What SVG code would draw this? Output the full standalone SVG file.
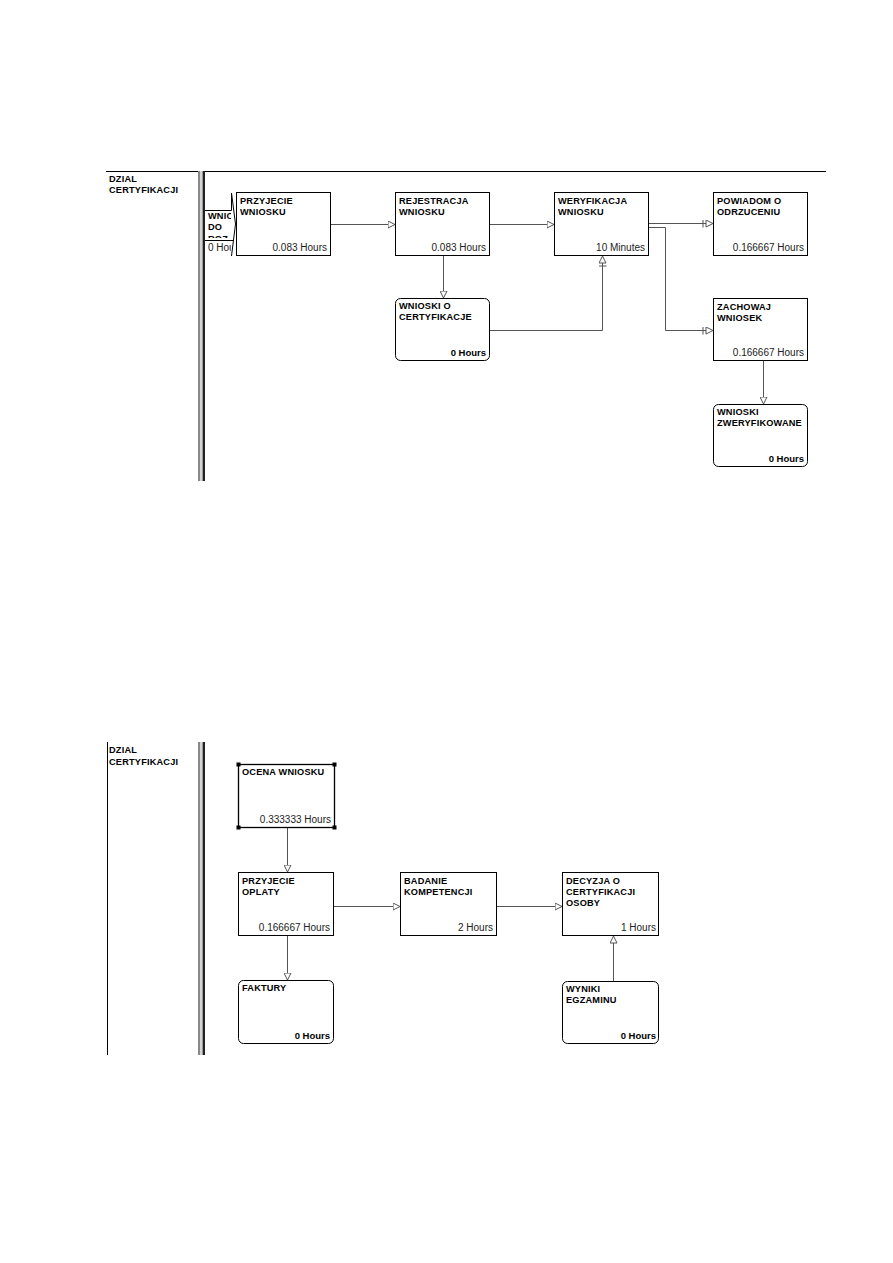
<svg xmlns="http://www.w3.org/2000/svg" width="893" height="1263" viewBox="0 0 893 1263">
<style>
.box{fill:#fff;stroke:#000;stroke-width:1}
.t{font-family:"Liberation Sans",Arial,sans-serif;font-size:9.2px;font-weight:bold;letter-spacing:0.2px;fill:#000}
.h{font-family:"Liberation Sans",Arial,sans-serif;font-size:10px;fill:#222;text-anchor:end}
.hb{font-family:"Liberation Sans",Arial,sans-serif;font-size:9.5px;font-weight:bold;fill:#000;text-anchor:end}
.lane{font-family:"Liberation Sans",Arial,sans-serif;font-size:9.2px;font-weight:bold;letter-spacing:0.2px;fill:#000}
.c{fill:none;stroke:#555;stroke-width:1}
</style>
<defs>
<marker id="arr" viewBox="0 0 8 8" markerWidth="8" markerHeight="8" refX="7.5" refY="4" orient="auto" markerUnits="userSpaceOnUse">
<path d="M0.5,0.5 L7.5,4 L0.5,7.5 Z" fill="#fff" stroke="#555" stroke-width="1"/>
</marker>
<marker id="arrbar" viewBox="0 0 12 8" markerWidth="12" markerHeight="8" refX="11.5" refY="4" orient="auto" markerUnits="userSpaceOnUse">
<line x1="1.5" y1="0" x2="1.5" y2="8" stroke="#555" stroke-width="1"/>
<path d="M4.5,0.5 L11.5,4 L4.5,7.5 Z" fill="#fff" stroke="#555" stroke-width="1"/>
</marker>
<clipPath id="inclip"><rect x="205" y="200" width="26" height="38"/></clipPath>
<clipPath id="inclip2"><rect x="205" y="242" width="26" height="14"/></clipPath>
</defs>

<!-- Top section frame -->
<g id="frame-top">
<line x1="106" y1="171.5" x2="826" y2="171.5" stroke="#000" stroke-width="1"/>
<rect x="198" y="171" width="2" height="310" fill="#888"/>
<rect x="200" y="171" width="2" height="310" fill="#d4d4d4"/>
<rect x="202" y="171" width="1" height="310" fill="#999"/>
<rect x="203" y="171" width="2" height="310" fill="#222"/>
<text class="lane" x="109" y="182">DZIAL</text>
<text class="lane" x="109" y="193">CERTYFIKACJI</text>
</g>

<!-- Bottom section frame -->
<g id="frame-bottom">
<line x1="107.5" y1="742" x2="107.5" y2="1055" stroke="#000" stroke-width="1"/>
<rect x="198" y="742" width="2" height="313" fill="#888"/>
<rect x="200" y="742" width="2" height="313" fill="#d4d4d4"/>
<rect x="202" y="742" width="1" height="313" fill="#999"/>
<rect x="203" y="742" width="2" height="313" fill="#222"/>
<text class="lane" x="109" y="753">DZIAL</text>
<text class="lane" x="109" y="765">CERTYFIKACJI</text>
</g>

<!-- Connectors -->
<g id="connectors">
<line class="c" x1="331" y1="224.5" x2="395" y2="224.5" marker-end="url(#arr)"/>
<line class="c" x1="490" y1="224.5" x2="554" y2="224.5" marker-end="url(#arr)"/>
<line class="c" x1="649" y1="223.5" x2="713" y2="223.5" marker-end="url(#arrbar)"/>
<polyline class="c" points="649,227.5 665.5,227.5 665.5,330.5 713,330.5" marker-end="url(#arrbar)"/>
<line class="c" x1="443.5" y1="256" x2="443.5" y2="298" marker-end="url(#arr)"/>
<polyline class="c" points="490,330.5 602.5,330.5 602.5,256" marker-end="url(#arrbar)"/>
<line class="c" x1="763.5" y1="361" x2="763.5" y2="404" marker-end="url(#arr)"/>
<line class="c" x1="287.5" y1="828" x2="287.5" y2="872" marker-end="url(#arr)"/>
<line class="c" x1="334" y1="906.5" x2="400" y2="906.5" marker-end="url(#arr)"/>
<line class="c" x1="497" y1="906.5" x2="562" y2="906.5" marker-end="url(#arr)"/>
<line class="c" x1="287.5" y1="936" x2="287.5" y2="980" marker-end="url(#arr)"/>
<line class="c" x1="613.5" y1="981" x2="613.5" y2="936" marker-end="url(#arr)"/>
</g>

<!-- Clipped incoming arrow -->
<g id="n-wnioski-do">
<path d="M205,210.5 H231.5 V193 L235.5,224 L231.5,256" fill="none" stroke="#000" stroke-width="1"/>
<line x1="205" y1="240.5" x2="233" y2="240.5" stroke="#000" stroke-width="1"/>
<g clip-path="url(#inclip)">
<text class="t" x="208" y="219">WNIO</text>
<text class="t" x="208" y="230">DO</text>
<text class="t" x="208" y="242">ROZ</text>
</g>
<g clip-path="url(#inclip2)">
<text class="h" x="208" y="251" style="text-anchor:start">0 Hou</text>
</g>
</g>

<g id="n-przyjecie-wniosku">
<rect class="box" x="236.5" y="192.5" width="94" height="63"/>
<text class="t" x="240" y="203.5">PRZYJECIE</text>
<text class="t" x="240" y="214.5">WNIOSKU</text>
<text class="h" x="327" y="251">0.083 Hours</text>
</g>

<g id="n-rejestracja">
<rect class="box" x="395.5" y="192.5" width="94" height="63"/>
<text class="t" x="399" y="203.5">REJESTRACJA</text>
<text class="t" x="399" y="214.5">WNIOSKU</text>
<text class="h" x="486" y="251">0.083 Hours</text>
</g>

<g id="n-weryfikacja">
<rect class="box" x="554.5" y="192.5" width="94" height="63"/>
<text class="t" x="558" y="203.5">WERYFIKACJA</text>
<text class="t" x="558" y="214.5">WNIOSKU</text>
<text class="h" x="645" y="251">10 Minutes</text>
</g>

<g id="n-powiadom">
<rect class="box" x="713.5" y="192.5" width="94" height="63"/>
<text class="t" x="717" y="203.5">POWIADOM O</text>
<text class="t" x="717" y="214.5">ODRZUCENIU</text>
<text class="h" x="804" y="251">0.166667 Hours</text>
</g>

<g id="n-wnioski-o-cert">
<rect class="box" x="395.5" y="298.5" width="94" height="62" rx="5"/>
<text class="t" x="399" y="309">WNIOSKI O</text>
<text class="t" x="399" y="320">CERTYFIKACJE</text>
<text class="hb" x="486" y="356">0 Hours</text>
</g>

<g id="n-zachowaj">
<rect class="box" x="713.5" y="298.5" width="94" height="62"/>
<text class="t" x="717" y="309.5">ZACHOWAJ</text>
<text class="t" x="717" y="320.5">WNIOSEK</text>
<text class="h" x="804" y="356">0.166667 Hours</text>
</g>

<g id="n-wnioski-zweryf">
<rect class="box" x="713.5" y="404.5" width="94" height="62" rx="5"/>
<text class="t" x="717" y="415">WNIOSKI</text>
<text class="t" x="717" y="426">ZWERYFIKOWANE</text>
<text class="hb" x="804" y="462">0 Hours</text>
</g>

<!-- Bottom section nodes -->
<g id="n-ocena">
<rect class="box" x="238.5" y="764.5" width="96" height="63" style="stroke-width:1.3"/>
<rect x="236.5" y="762.5" width="4" height="4" fill="#000"/>
<rect x="332.5" y="762.5" width="4" height="4" fill="#000"/>
<rect x="236.5" y="825.5" width="4" height="4" fill="#000"/>
<rect x="332.5" y="825.5" width="4" height="4" fill="#000"/>
<text class="t" x="242" y="775">OCENA WNIOSKU</text>
<text class="h" x="331" y="823">0.333333 Hours</text>
</g>

<g id="n-przyjecie-oplaty">
<rect class="box" x="238.5" y="872.5" width="95" height="63"/>
<text class="t" x="242" y="883.5">PRZYJECIE</text>
<text class="t" x="242" y="894.5">OPLATY</text>
<text class="h" x="330" y="931">0.166667 Hours</text>
</g>

<g id="n-badanie">
<rect class="box" x="400.5" y="872.5" width="96" height="63"/>
<text class="t" x="404" y="883.5">BADANIE</text>
<text class="t" x="404" y="894.5">KOMPETENCJI</text>
<text class="h" x="493" y="931">2 Hours</text>
</g>

<g id="n-decyzja">
<rect class="box" x="562.5" y="872.5" width="96" height="63"/>
<text class="t" x="566" y="883.5">DECYZJA O</text>
<text class="t" x="566" y="894.5">CERTYFIKACJI</text>
<text class="t" x="566" y="905.5">OSOBY</text>
<text class="h" x="656" y="931">1 Hours</text>
</g>

<g id="n-faktury">
<rect class="box" x="238.5" y="980.5" width="95" height="63" rx="5"/>
<text class="t" x="242" y="991">FAKTURY</text>
<text class="hb" x="330" y="1039">0 Hours</text>
</g>

<g id="n-wyniki">
<rect class="box" x="562.5" y="981.5" width="96" height="62" rx="5"/>
<text class="t" x="566" y="992">WYNIKI</text>
<text class="t" x="566" y="1003">EGZAMINU</text>
<text class="hb" x="656" y="1039">0 Hours</text>
</g>
</svg>
